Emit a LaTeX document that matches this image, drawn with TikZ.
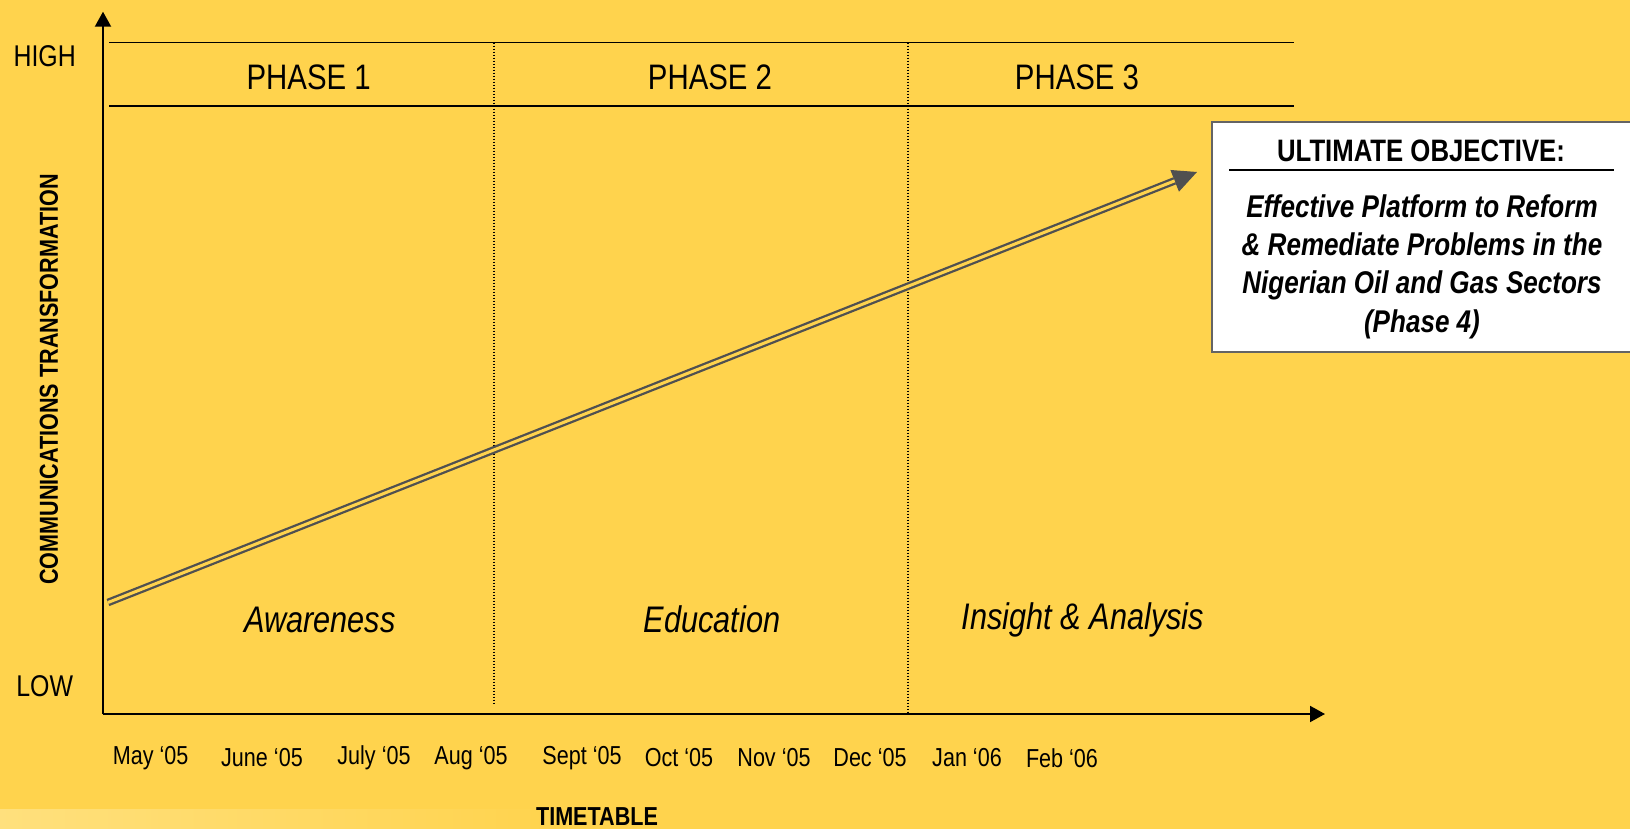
\documentclass[tikz,border=0pt]{standalone}
\usepackage{fontspec}
\setmainfont{Liberation Sans}[FakeStretch=0.83]
\usetikzlibrary{arrows.meta}
\definecolor{bg}{RGB}{255,211,77}
\definecolor{lgray}{RGB}{80,80,80}
\definecolor{boxgray}{RGB}{100,100,100}
\definecolor{pale}{RGB}{255,224,125}
\begin{document}
\begin{tikzpicture}[x=0.5pt,y=-0.5pt,
  axisline/.style={line width=1pt,-{Triangle[length=7.5pt,width=8pt]}},
  rule/.style={line width=0.9pt},
  dotline/.style={line width=0.6pt,dash pattern=on 0.75pt off 0.75pt},
  phase/.style={font=\fontsize{17.7}{20}\selectfont},
  stage/.style={font=\fontsize{18.5}{22}\selectfont\itshape},
  datelbl/.style={font=\fontsize{13}{15}\selectfont},
  lvl/.style={font=\fontsize{15}{18}\selectfont},
  boldlbl/.style={font=\fontsize{13}{15}\selectfont\bfseries},
  inner sep=0pt, outer sep=0pt]
\useasboundingbox (0,0) rectangle (1630,829);
\fill[bg] (0,0) rectangle (1630,829);
\shade[left color=pale,right color=bg] (0,809) rectangle (560,829);

% axes
\coordinate (o) at (103,714);
\coordinate (ytip) at (103,11.7);
\coordinate (xtip) at (1325,714);
\draw[axisline] (o) -- (ytip);
\draw[axisline] (o) -- (xtip);

% phase band rules
\coordinate (r1a) at (109,42.6); \coordinate (r1b) at (1294,42.6);
\coordinate (r2a) at (109,106);  \coordinate (r2b) at (1294,106);
\draw[rule] (r1a) -- (r1b);
\draw[rule] (r2a) -- (r2b);

% dotted separators
\coordinate (d1a) at (494,42.6); \coordinate (d1b) at (494,704);
\coordinate (d2a) at (908,42.6); \coordinate (d2b) at (908,714);
\draw[dotline] (d1a) -- (d1b);
\draw[dotline] (d2a) -- (d2b);

% labels
\node[lvl] (high) at (44.7,56) {HIGH};
\node[lvl] (low) at (44.7,686) {LOW};
\node[boldlbl,rotate=90] (ylab) at (49,379.5) {COMMUNICATIONS TRANSFORMATION};
\node[phase] (p1) at (308.7,77) {PHASE 1};
\node[phase] (p2) at (710,77) {PHASE 2};
\node[phase] (p3) at (1077,77) {PHASE 3};
\node[stage] (s1) at (320,619.5) {Awareness};
\node[stage] (s2) at (712,619.5) {Education};
\node[stage] (s3) at (1083,619.5) {Insight \& Analysis};

% dates
\node[datelbl] (m1) at (150.7,758) {May ‘05};
\node[datelbl] (m2) at (262,758) {June ‘05};
\node[datelbl] (m3) at (374,758) {July ‘05};
\node[datelbl] (m4) at (471,758) {Aug ‘05};
\node[datelbl] (m5) at (582,758) {Sept ‘05};
\node[datelbl] (m6) at (679,758) {Oct ‘05};
\node[datelbl] (m7) at (774,758) {Nov ‘05};
\node[datelbl] (m8) at (870,758) {Dec ‘05};
\node[datelbl] (m9) at (967,758) {Jan ‘06};
\node[datelbl] (m10) at (1062,758) {Feb ‘06};
\node[boldlbl] (tt) at (597,817) {TIMETABLE};

% objective box
\node[draw=boxgray,line width=1pt,fill=white,anchor=north west,
      minimum width=209.5pt,minimum height=115.2pt] (box) at (1212,121.6) {};
\node[font=\fontsize{15.5}{18}\selectfont\bfseries] (ttl) at (1421,151) {ULTIMATE OBJECTIVE:};
\coordinate (ula) at (1229,170); \coordinate (ulb) at (1614,170);
\draw[line width=0.9pt] (ula) -- (ulb);
\node[font=\fontsize{15.7}{19.2}\selectfont\bfseries\itshape,align=center] (body) at (1422,266.5)
  {Effective Platform to Reform\\ \& Remediate Problems in the\\ Nigerian Oil and Gas Sectors\\ (Phase 4)};

% growth arrow
\coordinate (s) at (108,602.5);
\coordinate (t) at (1197,172);
\draw[lgray,line width=0.6pt,-{Triangle[length=12pt,width=11.5pt]}] (s) -- (t);
\draw[lgray,line width=1.15pt,double=bg,double distance=1.5pt,shorten >=12pt] (s) -- (t);
\end{tikzpicture}
\end{document}
